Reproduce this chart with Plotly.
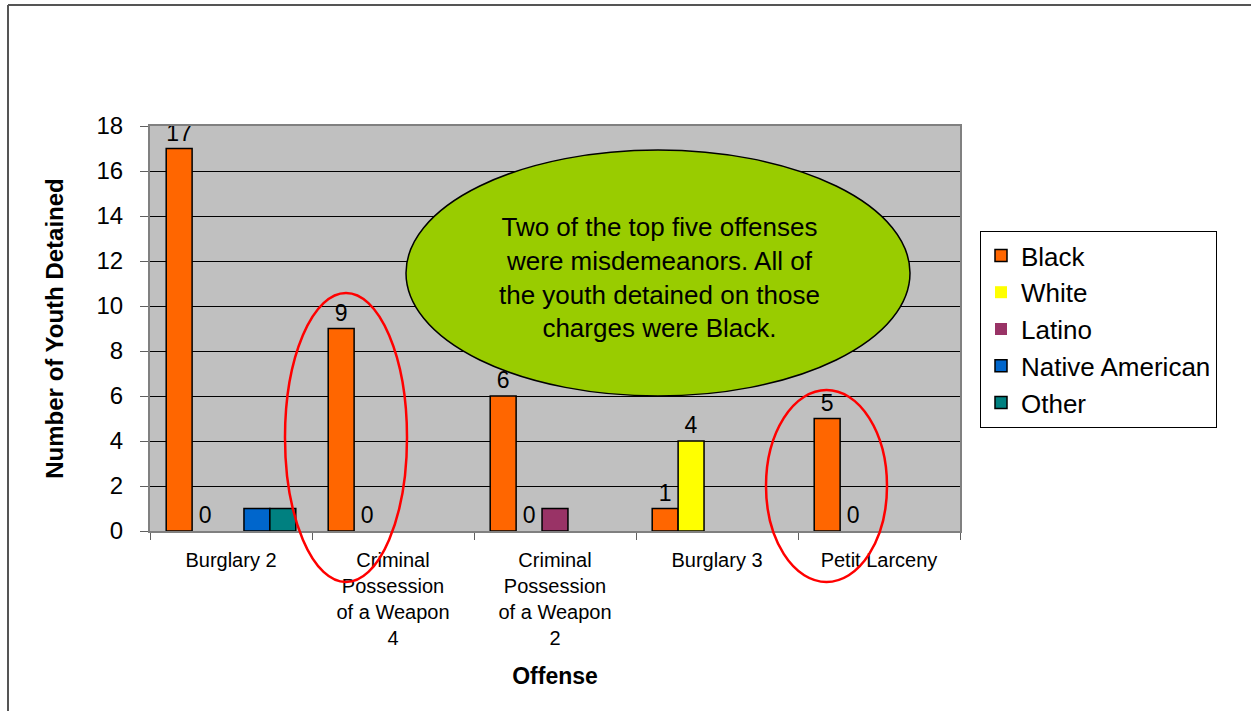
import plotly.graph_objects as go

# Offense categories and detention counts by race/ethnicity
offenses = [
    "Burglary 2",
    "Criminal<br>Possession<br>of a Weapon<br>4",
    "Criminal<br>Possession<br>of a Weapon<br>2",
    "Burglary 3",
    "Petit Larceny",
]
black = [17, 9, 6, 1, 5]
white = [0, 0, 0, 4, 0]
latino = [0, 0, 1, 0, 0]
native_american = [1, 0, 0, 0, 0]
other = [1, 0, 0, 0, 0]

series = [
    ("Black", black, "#FF6600", True),
    ("White", white, "#FFFF00", True),
    ("Latino", latino, "#993366", False),
    ("Native American", native_american, "#0066CC", False),
    ("Other", other, "#008080", False),
]

FONT = "Liberation Sans, Arial, sans-serif"

fig = go.Figure()
for name, vals, color, labelled in series:
    fig.add_trace(go.Bar(
        name=name,
        x=offenses,
        y=vals,
        marker=dict(
            color=color,
            # no outline on empty bars so nothing shows along the baseline
            line=dict(color="black", width=[1.5 if v else 0 for v in vals]),
        ),
        text=[str(v) for v in vals] if labelled else None,
        textposition="outside" if labelled else "none",
        textfont=dict(family=FONT, size=23, color="black"),
        constraintext="none",
        cliponaxis=False,
        legendgroup=name,
    ))

# plot-area geometry helpers (paper coordinates)
L, R, T, B = 150, 291, 126, 180
W, H = 1251, 711
PW, PH = W - L - R, H - T - B


def px(x):
    return (x - L) / PW


def py(y):
    return (H - B - y) / PH


shapes = [
    # outer frame
    dict(type="line", xref="paper", yref="paper", x0=px(8), x1=px(1260), y0=py(5), y1=py(5),
         line=dict(color="#555555", width=2)),
    dict(type="line", xref="paper", yref="paper", x0=px(8), x1=px(8), y0=py(5), y1=py(720),
         line=dict(color="#555555", width=2)),
    # callout bubble
    dict(type="circle", xref="paper", yref="paper", x0=px(406), x1=px(910), y0=py(396), y1=py(150),
         fillcolor="#99CC00", line=dict(color="black", width=1.5), layer="above"),
    # highlight rings around misdemeanor offenses
    dict(type="circle", xref="paper", yref="paper", x0=px(285), x1=px(407), y0=py(582), y1=py(293),
         line=dict(color="#FF0000", width=2.5), layer="above"),
    dict(type="circle", xref="paper", yref="paper", x0=px(766), x1=px(887), y0=py(582), y1=py(390),
         line=dict(color="#FF0000", width=2.5), layer="above"),
]

annotations = [
    dict(xref="paper", yref="paper", x=px(659), y=py(277), xanchor="center", yanchor="middle",
         showarrow=False, align="center",
         text="Two of the top five offenses<br>were misdemeanors. All of<br>the youth detained on those<br>charges were Black.",
         font=dict(family=FONT, size=26, color="black")),
]

fig.update_layout(
    width=W, height=H, autosize=False,
    margin=dict(l=L, r=R, t=T, b=B, pad=0),
    paper_bgcolor="white",
    plot_bgcolor="#C0C0C0",
    barmode="group",
    bargap=0.2,
    bargroupgap=0,
    font=dict(family=FONT, color="black"),
    showlegend=True,
    legend=dict(
        x=px(980), y=py(231), xanchor="left", yanchor="top",
        bgcolor="white", bordercolor="black", borderwidth=1,
        font=dict(family=FONT, size=26, color="black"),
        traceorder="grouped", tracegroupgap=0,
    ),
    shapes=shapes,
    annotations=annotations,
)

fig.update_yaxes(
    range=[0, 18], dtick=2,
    showgrid=True, gridcolor="black", gridwidth=1,
    zeroline=False,
    showline=True, linecolor="#808080", linewidth=2, mirror=True,
    ticks="outside", ticklen=8, tickcolor="#606060",
    ticklabelstandoff=12,
    tickfont=dict(family=FONT, size=24, color="black"),
    title=dict(text="<b>Number of Youth Detained</b>", standoff=26,
               font=dict(family=FONT, size=24, color="black")),
)

fig.update_xaxes(
    type="category",
    showgrid=False, zeroline=False,
    showline=True, linecolor="#808080", linewidth=2, mirror=True,
    ticks="outside", tickson="boundaries", ticklen=7, tickcolor="#606060",
    tickangle=0,
    ticklabelstandoff=10,
    tickfont=dict(family=FONT, size=20, color="black"),
    title=dict(text="<b>Offense</b>", standoff=20,
               font=dict(family=FONT, size=23, color="black")),
)

fig.write_html("out.html")
